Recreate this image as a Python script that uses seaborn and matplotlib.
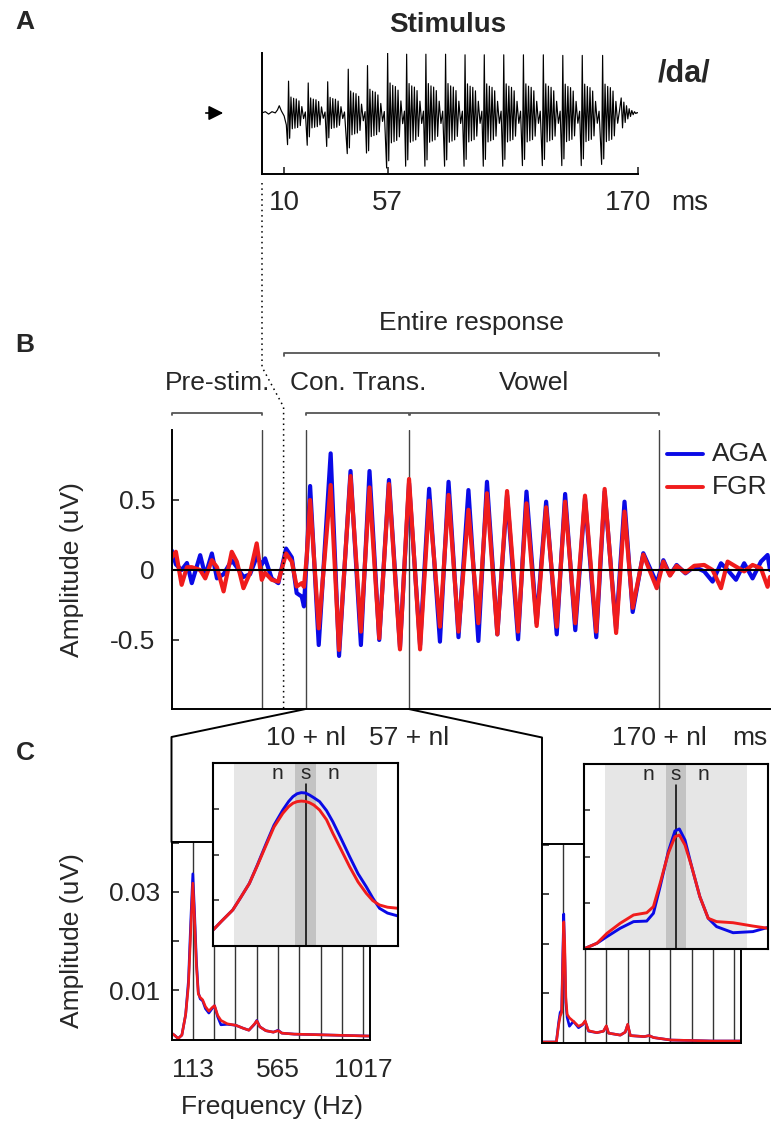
import numpy as np
import pandas as pd
import matplotlib
matplotlib.use("Agg")
import matplotlib.pyplot as plt
from matplotlib.lines import Line2D
from matplotlib.patches import FancyArrowPatch
import seaborn as sns

# %% data
# A: stimulus /da/ -- one entry per pitch period (ms, relative amplitude)
stim_onsets = [12.0, 20.9, 29.7, 39.0, 47.7, 56.8, 65.4, 74.1, 83.0, 91.8,
               100.5, 109.3, 118.2, 127.2, 136.0, 144.8, 154.0]
stim_peaks = [0.53, 0.50, 0.52, 0.73, 0.79, 1.00, 0.98, 0.98, 0.98, 0.97,
              0.97, 0.97, 0.97, 0.97, 0.96, 0.96, 0.96]
stim_troughs = [-0.53, -0.54, -0.56, -0.68, -0.67, -0.92, -0.89, -0.89, -0.89, -0.89,
                -0.89, -0.89, -0.88, -0.88, -0.88, -0.88, -0.86]
# shape of one period after its spike (ms after spike, fraction of the spike)
cycle_dt = [0.5, 1.1, 1.7, 2.3, 2.9, 3.5, 4.1, 4.7, 5.3, 6.0, 6.8, 7.6]
cycle_frac = [-0.8, 0.5, -0.5, 0.46, -0.48, 0.44, -0.46, 0.38, -0.4, 0.2, -0.18, 0.03]
stim_lead_t = [0, 1.5, 3, 4.5, 6, 7.0, 7.8, 8.8, 10.0, 11.0]
stim_lead_v = [0, 0.02, -0.02, 0.02, 0.0, 0.05, 0.12, 0.03, -0.05, -0.2]
stim_tail_t = [162.4, 163.0, 163.6, 164.2, 164.8, 165.4, 166.0, 166.6, 167.2, 167.8, 168.4, 169.0, 169.6, 170.0]
stim_tail_v = [0.25, -0.25, 0.18, -0.16, 0.12, -0.1, 0.07, -0.06, 0.04, -0.03, 0.02, -0.01, 0.005, 0.0]

# B: response waveform (ms, uV)
pre_t = [-50.7, -48.8, -46.2, -43.8, -41.6, -37.8, -35.5, -32.5, -30.2, -27.2, -23.5, -21.2,
         -18.2, -15.2, -12.2, -9.9, -8.4, -5.4, -2.4, 1.1, 3.7, 5.9, 8.2, 9.2, 10.5]
pre_aga = [0.14, 0.04, 0.0, 0.05, -0.094, 0.106, -0.04, 0.118, -0.06, -0.03, 0.07, 0.02,
           -0.05, -0.03, 0.094, 0.04, 0.083, -0.06, -0.094, 0.153, 0.09, -0.165, -0.19, -0.26, 0.1]
pre_fgr = [0.09, 0.13, -0.106, 0.02, 0.02, 0.0, -0.06, 0.07, 0.02, -0.153, 0.13, 0.06,
           -0.13, -0.02, 0.19, -0.07, -0.02, -0.07, -0.083, 0.118, 0.06, -0.118, -0.094, -0.12, 0.1]
peak_t = [12.0, 21.3, 30.3, 38.9, 47.7, 56.8, 65.9, 74.7, 83.7, 92.1, 101.2, 110.0,
          118.9, 127.5, 136.5, 145.4, 154.4]
trough_t = [15.9, 25.1, 35.0, 43.3, 52.7, 61.8, 70.8, 79.2, 88.2, 96.8, 106.2, 114.6,
            123.7, 132.1, 141.6, 150.6, 158.1]
peak_aga = [0.60, 0.833, 0.707, 0.707, 0.643, 0.62, 0.58, 0.63, 0.571, 0.63, 0.536, 0.56,
            0.488, 0.543, 0.512, 0.56, 0.488]
peak_fgr = [0.50, 0.607, 0.671, 0.59, 0.614, 0.65, 0.495, 0.536, 0.43, 0.548, 0.564, 0.476,
            0.448, 0.488, 0.531, 0.579, 0.417]
trough_aga = [-0.536, -0.614, -0.536, -0.50, -0.552, -0.536, -0.512, -0.48, -0.507, -0.46, -0.495,
              -0.38, -0.46, -0.43, -0.48, -0.42, -0.30]
trough_fgr = [-0.417, -0.571, -0.44, -0.488, -0.567, -0.567, -0.405, -0.44, -0.38, -0.46, -0.44,
              -0.40, -0.405, -0.38, -0.44, -0.45, -0.27]
post_t = [162.9, 169.0, 172, 175, 178, 182, 186, 190.5, 194.3, 198.1, 201.1, 204.9, 208.6,
          212.4, 216.2, 219.2, 220.3]
post_aga = [0.12, -0.095, 0.07, -0.036, 0.036, -0.024, 0.024, -0.01, -0.083, 0.048, 0.0, -0.07,
            0.048, -0.06, 0.06, 0.107, 0.0]
post_fgr = [0.11, -0.13, 0.06, -0.04, 0.03, -0.02, 0.03, 0.036, 0.0, -0.13, 0.06, 0.024,
            -0.01, 0.036, 0.012, -0.12, -0.05]

# C: spectra (Hz, uV), 10+nl..57+nl window and 170+nl window
specL_f = [0, 15, 35, 55, 75, 90, 102, 113, 122, 132, 142, 152, 165, 180, 198, 215, 228, 245,
           262, 296, 341, 380, 410, 440, 452, 468, 500, 540, 565, 585, 650, 750, 850, 950, 1052]
specL_aga = [0.0012, 0.0008, 0.0001, 0.0008, 0.005, 0.012, 0.024, 0.0337, 0.026, 0.016, 0.0095,
             0.0082, 0.0078, 0.0062, 0.0053, 0.0062, 0.0068, 0.0045, 0.0029, 0.003, 0.0028, 0.0022,
             0.0018, 0.003, 0.0038, 0.0025, 0.0017, 0.0014, 0.0018, 0.0012, 0.001, 0.0009, 0.0008,
             0.0007, 0.0006]
specL_fgr = [0.0012, 0.0008, 0.0001, 0.0008, 0.005, 0.011, 0.022, 0.0318, 0.0245, 0.015, 0.0092,
             0.0085, 0.008, 0.0066, 0.0057, 0.0064, 0.0068, 0.0048, 0.0038, 0.0031, 0.0028, 0.0022,
             0.0018, 0.0031, 0.0037, 0.0025, 0.0017, 0.0014, 0.0017, 0.0012, 0.001, 0.0009, 0.0008,
             0.0007, 0.0006]
specR_f = [0, 40, 76, 88, 96, 104, 110, 115, 120, 126, 133, 145, 166, 193, 215, 228, 246, 290,
           325, 340, 352, 414, 440, 453, 467, 540, 566, 590, 681, 800, 900, 1052]
specR_aga = [0, 0, 0, 0.004, 0.006, 0.0065, 0.018, 0.026, 0.018, 0.008, 0.005, 0.0032, 0.0042,
             0.0029, 0.0035, 0.0042, 0.0022, 0.0019, 0.0022, 0.0032, 0.0018, 0.0014, 0.002, 0.0035,
             0.0013, 0.0011, 0.0013, 0.0009, 0.0004, 0.0003, 0.0002, 0.0002]
specR_fgr = [0, 0, 0, 0.0035, 0.0052, 0.006, 0.016, 0.0244, 0.02, 0.009, 0.0056, 0.0049, 0.0042,
             0.0032, 0.0036, 0.0043, 0.0023, 0.0019, 0.0022, 0.0033, 0.0018, 0.0014, 0.002, 0.0036,
             0.0013, 0.0011, 0.0013, 0.0009, 0.0004, 0.0003, 0.0002, 0.0002]
harmonics = [113, 226, 339, 452, 565, 678, 791, 904, 1017]

# insets: magnified F0 peak (Hz, relative units)
insL_f = [69, 73, 78.4, 82, 86.3, 90, 94.3, 98, 102.2, 105, 107, 109, 111, 113, 114.9, 117, 119.7,
          123, 126, 130, 134, 138, 141.9, 145, 148.2, 152, 157]
insL_aga = [0.087, 0.135, 0.197, 0.262, 0.342, 0.44, 0.56, 0.66, 0.743, 0.79, 0.816, 0.832, 0.838,
            0.836, 0.825, 0.81, 0.789, 0.74, 0.679, 0.585, 0.488, 0.395, 0.324, 0.262, 0.206, 0.18, 0.164]
insL_fgr = [0.087, 0.135, 0.197, 0.262, 0.342, 0.437, 0.552, 0.65, 0.725, 0.762, 0.78, 0.789, 0.792,
            0.79, 0.783, 0.77, 0.743, 0.69, 0.616, 0.525, 0.433, 0.35, 0.288, 0.248, 0.224, 0.212, 0.206]
insR_f = [69.2, 75.2, 80, 86.3, 92.7, 99, 102.2, 105.4, 109.3, 112.5, 114.6, 117.3, 120.5, 124.4,
          128.4, 132.4, 140.3, 149.8, 157]
insR_aga = [0.002, 0.031, 0.067, 0.112, 0.148, 0.151, 0.193, 0.337, 0.526, 0.638, 0.649, 0.589,
            0.445, 0.283, 0.166, 0.121, 0.088, 0.094, 0.117]
insR_fgr = [0.002, 0.031, 0.085, 0.139, 0.184, 0.196, 0.229, 0.355, 0.517, 0.607, 0.616, 0.562,
            0.445, 0.283, 0.166, 0.148, 0.142, 0.124, 0.112]

# %% setup
W, H = 772, 1127
BLUE, RED = "#0a0ae6", "#f01c1c"
pal = {"AGA": BLUE, "FGR": RED}
FS = 19


def box(x0, y0, x1, y1):
    # pixel box (top-left origin) -> figure fraction rect
    return [x0 / W, 1 - y1 / H, (x1 - x0) / W, (y1 - y0) / H]


def fx(x):
    return x / W


def fy(y):
    return 1 - y / H


def long_df(x, a, f):
    return pd.DataFrame({"x": list(x) * 2, "y": list(a) + list(f),
                         "group": ["AGA"] * len(a) + ["FGR"] * len(f)})


sns.set_theme(style="white")
plt.rcParams["font.family"] = ["Liberation Sans", "DejaVu Sans"]
plt.rcParams["axes.linewidth"] = 1.4
plt.rcParams["axes.edgecolor"] = "black"

fig = plt.figure(figsize=(W / 100, H / 100), dpi=100)

# %% A: stimulus
stim_t = list(stim_lead_t)
stim_v = list(stim_lead_v)
for onset, pk, tr in zip(stim_onsets, stim_peaks, stim_troughs):
    stim_t += [onset - 0.45, onset] + [onset + d for d in cycle_dt]
    stim_v += [tr, pk] + [pk * c for c in cycle_frac]
stim_t += stim_tail_t
stim_v += stim_tail_v

axA = fig.add_axes(box(262, 53, 638, 174))
sns.lineplot(x=stim_t, y=stim_v, estimator=None, sort=False, color="black", lw=0.85, ax=axA)
axA.set_xlim(0, 170)
axA.set_ylim(-1.02, 1.0)
for s in ["top", "right"]:
    axA.spines[s].set_visible(False)
axA.set_xticks([10, 57, 170])
axA.set_xticklabels([])
axA.set_yticks([])
axA.tick_params(axis="x", direction="in", length=5, width=1.2, bottom=True)
for lab, x in [("10", 284), ("57", 387), ("170", 628), ("ms", 690)]:
    fig.text(fx(x), fy(203), lab, fontsize=FS + 1, ha="center", va="center")
fig.text(fx(448), fy(25), "Stimulus", fontsize=20, weight="bold", ha="center", va="center")
fig.text(fx(684), fy(74), "/da/", fontsize=22, weight="bold", ha="center", va="center")
fig.add_artist(FancyArrowPatch((fx(203), fy(113)), (fx(226), fy(113)), transform=fig.transFigure,
                               arrowstyle="-|>", mutation_scale=22, color="black", lw=1.2))

# %% B: response
resp_t, resp_a, resp_f = list(pre_t), list(pre_aga), list(pre_fgr)
for pt, tt, pa, ta, pf, tf in zip(peak_t, trough_t, peak_aga, trough_aga, peak_fgr, trough_fgr):
    resp_t += [pt, tt]
    resp_a += [pa, ta]
    resp_f += [pf, tf]
resp_t += post_t
resp_a += post_aga
resp_f += post_fgr
dfB = long_df(resp_t, resp_a, resp_f)

axB = fig.add_axes(box(171.7, 430, 770, 709))
for x in [-10, 10, 57, 170]:
    axB.axvline(x, color="#444444", lw=1.0, zorder=1)
sns.lineplot(data=dfB, x="x", y="y", hue="group", palette=pal, estimator=None, sort=False,
             lw=3.0, legend=False, ax=axB, zorder=2, solid_joinstyle="round", solid_capstyle="round")
axB.axhline(0, color="black", lw=1.5, zorder=3)
axB.set_xlim(-50.7, 220.3)
axB.set_ylim(-0.993, 1.0)
for s in ["top", "right"]:
    axB.spines[s].set_visible(False)
axB.set_xticks([])
axB.set_yticks([-0.5, 0, 0.5])
axB.set_yticklabels(["-0.5", "0", "0.5"])
axB.tick_params(axis="y", direction="in", length=5, width=1.2, left=True, labelsize=FS, pad=12)
axB.set_xlabel("")
axB.set_ylabel("Amplitude (uV)", fontsize=FS)
axB.yaxis.set_label_coords((84 - 171.7) / 598.3, 0.5)

# brackets above B
kw = dict(color="#555555", lw=1.3, clip_on=False)
for x0, x1, yl in [(0, 170, 1.552), (-50.5, -10, 1.124), (10, 57, 1.124), (57.3, 170, 1.124)]:
    axB.plot([x0, x0, x1, x1], [yl - 0.02, yl, yl, yl - 0.02], **kw)
for txt, x, y in [("Entire response", 85, 1.764), ("Pre-stim.", -30, 1.336),
                  ("Con. Trans.", 33.7, 1.336), ("Vowel", 113.4, 1.336)]:
    axB.text(x, y, txt, fontsize=FS, ha="center", va="center")
for txt, x in [("10 + nl", 10), ("57 + nl", 57), ("170 + nl", 170), ("ms", 211.2)]:
    axB.text(x, -1.2, txt, fontsize=FS, ha="center", va="center", clip_on=False)

# legend
for lab, y, c in [("AGA", 454, BLUE), ("FGR", 487, RED)]:
    fig.add_artist(Line2D([fx(667), fx(703)], [fy(y), fy(y)], color=c, lw=2.8))
    fig.text(fx(712), fy(y), lab, fontsize=FS, ha="left", va="center")

# dotted stimulus-onset line and zoom connectors
fig.add_artist(Line2D([fx(262), fx(262), fx(283.6), fx(283.6)],
                      [fy(183), fy(367), fy(407), fy(709)], color="black", lw=1.1, ls=(0, (1, 2.5))))
fig.add_artist(Line2D([fx(305.7), fx(171.5), fx(171.5)], [fy(709), fy(737), fy(842)],
                      color="black", lw=1.4))
fig.add_artist(Line2D([fx(408.7), fx(542), fx(542)], [fy(709), fy(737.5), fy(844)],
                      color="black", lw=1.4))


# %% C: spectra
def spectrum(rect, f, a, g, labels):
    ax = fig.add_axes(rect)
    for h in harmonics:
        ax.axvline(h, color="#333333", lw=1.0, zorder=1)
    sns.lineplot(data=long_df(f, a, g), x="x", y="y", hue="group", palette=pal, estimator=None,
                 sort=False, lw=1.9, legend=False, ax=ax, zorder=2)
    ax.set_xlim(0, 1052)
    ax.set_ylim(-0.0002, 0.0402)
    ax.set_yticks([0.01, 0.02, 0.03, 0.04])
    ax.tick_params(axis="y", direction="in", length=5, width=1.2, left=True, labelsize=FS, pad=8)
    ax.set_xlabel("")
    ax.set_ylabel("")
    if labels:
        ax.set_yticklabels(["0.01", "", "0.03", ""])
        ax.set_xticks([113, 565, 1017])
        ax.set_xticklabels(["113", "565", "1017"])
        ax.tick_params(axis="x", length=0, labelsize=FS, pad=13)
    else:
        ax.set_yticklabels([])
        ax.set_xticks([])
    return ax


axC1 = spectrum(box(171.5, 842, 370, 1040), specL_f, specL_aga, specL_fgr, True)
axC1.set_ylabel("Amplitude (uV)", fontsize=FS)
axC1.yaxis.set_label_coords((84 - 171.5) / 198.5, 0.5)
axC1.set_xlabel("Frequency (Hz)", fontsize=FS, va="center")
axC1.xaxis.set_label_coords((272 - 171.5) / 198.5, (1040 - 1107) / 198)
axC2 = spectrum(box(542, 844, 741, 1043), specR_f, specR_aga, specR_fgr, False)


def inset(rect, f, a, g):
    ax = fig.add_axes(rect)
    ax.set_facecolor("white")
    ax.axvspan(79, 147, color="#e6e6e6", lw=0, zorder=0)
    ax.axvspan(108, 118, color="#c3c3c3", lw=0, zorder=0)
    ax.plot([113, 113], [0, 0.885], color="black", lw=1.1, zorder=1)
    sns.lineplot(data=long_df(f, a, g), x="x", y="y", hue="group", palette=pal, estimator=None,
                 sort=False, lw=2.1, legend=False, ax=ax, zorder=2)
    ax.set_xlim(69, 157)
    ax.set_ylim(0, 1)
    ax.set_xticks([])
    ax.set_yticks([0.25, 0.5, 0.75])
    ax.set_yticklabels([])
    ax.tick_params(axis="y", direction="in", length=4, width=1.1, left=True)
    ax.set_xlabel("")
    ax.set_ylabel("")
    for s in ax.spines.values():
        s.set_linewidth(1.5)
    for txt, x in [("n", 99.7), ("s", 113), ("n", 126.3)]:
        ax.text(x, 0.945, txt, fontsize=15, ha="center", va="center")
    return ax


inset(box(213, 763, 398, 946), insL_f, insL_aga, insL_fgr)
inset(box(584, 764, 768, 949), insR_f, insR_aga, insR_fgr)

# panel letters
for lab, y in [("A", 22), ("B", 345), ("C", 753)]:
    fig.text(fx(25), fy(y), lab, fontsize=19, weight="bold", ha="center", va="center")

fig.savefig("out.png", dpi=100)
